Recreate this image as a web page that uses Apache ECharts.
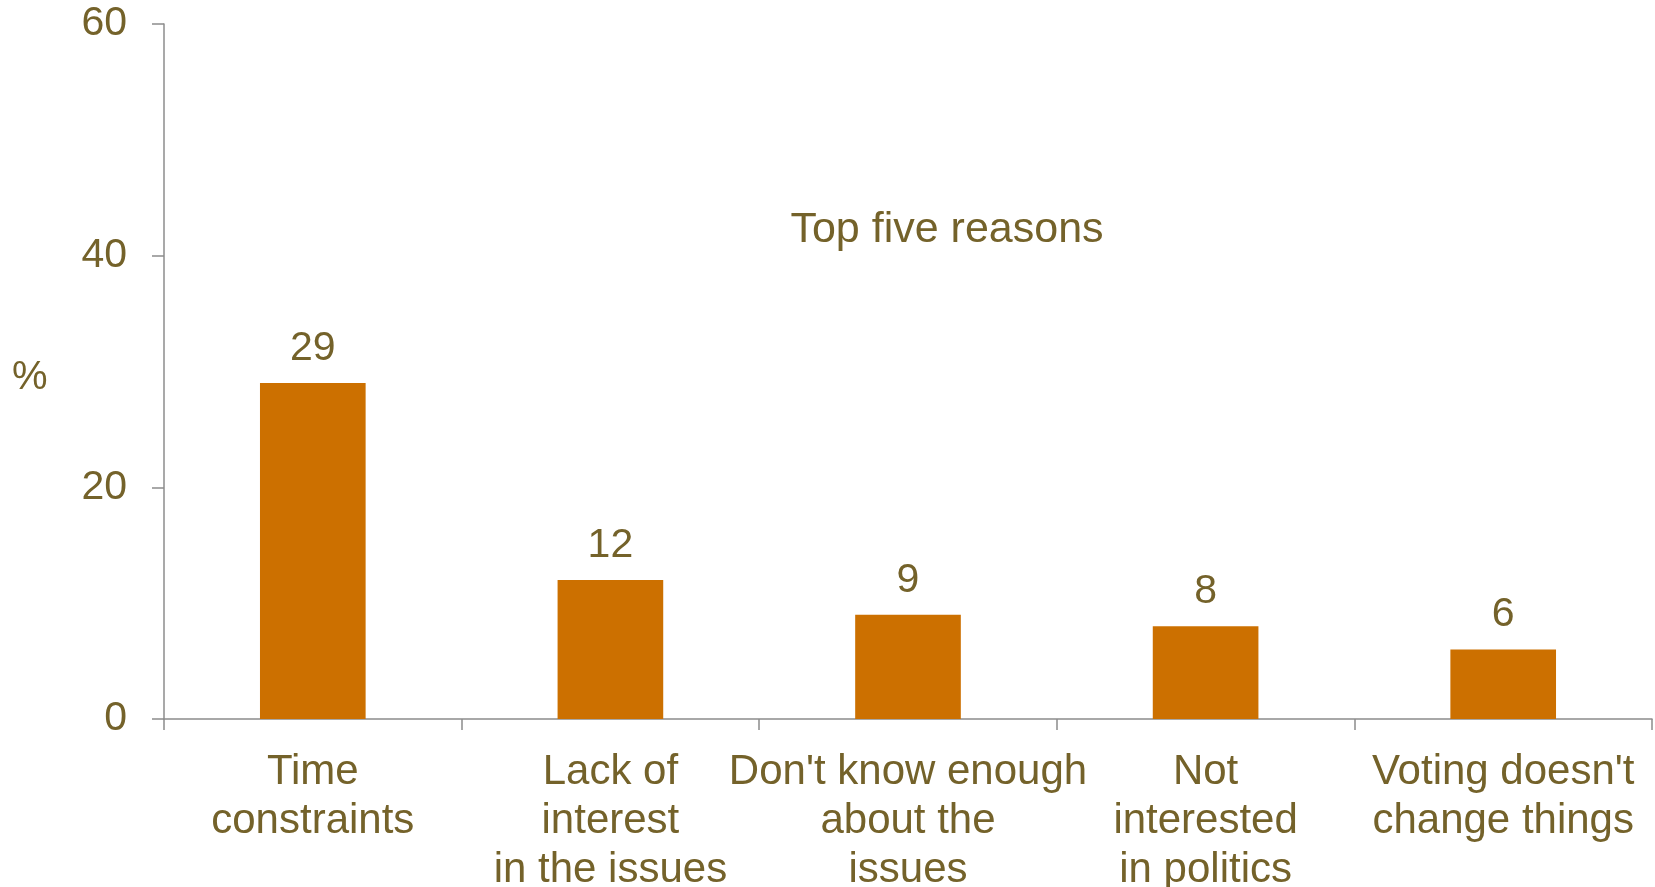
<!DOCTYPE html>
<html>
<head>
<meta charset="utf-8">
<script src="https://cdn.jsdelivr.net/npm/echarts@6/dist/echarts.min.js"></script>
<style>
html,body{margin:0;padding:0;background:#fff;}
#chart{width:1655px;height:887px;}
</style>
</head>
<body>
<div id="chart"></div>
<script>
const categories = [
  "Time\nconstraints",
  "Lack of\ninterest\nin the issues",
  "Don't know enough\nabout the\nissues",
  "Not\ninterested\nin politics",
  "Voting doesn't\nchange things"
];
const values = [29, 12, 9, 8, 6];
const yTicks = [0, 20, 40, 60];
const titleText = "Top five reasons";
const yName = "%";

const textColor = "#74622A";
const font = "'Liberation Sans', Arial, sans-serif";
const chart = echarts.init(document.getElementById('chart'));
chart.setOption({
  animation: false,
  backgroundColor: '#ffffff',
  title: {
    text: titleText,
    left: 942, top: 204, textAlign: 'center',
    textStyle: {color: textColor, fontFamily: font, fontSize: 43, fontWeight: 'normal'}
  },
  graphic: [{
    type: 'text', left: 12, top: 358,
    style: {text: yName, fill: textColor, font: "40px " + font}
  }],
  grid: {left: 164, right: 3, top: 24, bottom: 168, containLabel: false, outerBoundsMode: 'none'},
  xAxis: {
    type: 'category',
    data: categories,
    axisLine: {lineStyle: {color: '#8c8c8c', width: 1.5}},
    axisTick: {show: true, length: 11, alignWithLabel: false, lineStyle: {color: '#8c8c8c', width: 1.5}},
    axisLabel: {interval: 0, color: textColor, fontFamily: font, fontSize: 42, lineHeight: 49, margin: 29}
  },
  yAxis: {
    type: 'value',
    min: yTicks[0], max: yTicks[yTicks.length - 1], interval: 20,
    splitLine: {show: false},
    axisLine: {show: true, lineStyle: {color: '#8c8c8c', width: 1.5}},
    axisTick: {show: true, length: 12, lineStyle: {color: '#8c8c8c', width: 1.5}},
    axisLabel: {color: textColor, fontFamily: font, fontSize: 41, margin: 37}
  },
  series: [{
    type: 'bar',
    data: values,
    barWidth: '35.5%',
    itemStyle: {color: '#CC7000'},
    label: {show: true, position: 'top', distance: 14, color: textColor, fontFamily: font, fontSize: 41}
  }]
});
</script>
</body>
</html>
